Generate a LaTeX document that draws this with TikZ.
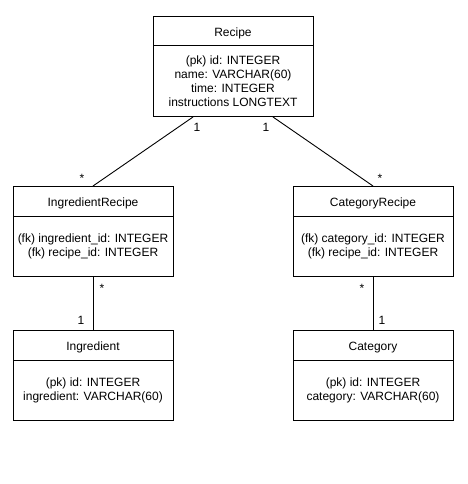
\documentclass[tikz,border=0pt]{standalone}
\usepackage{fontspec}
\setmainfont{Liberation Sans}
\usetikzlibrary{positioning}

\begin{document}
\begin{tikzpicture}[x=1pt, y=1pt,
        table/.style={draw, line width=1pt, outer sep=0pt, inner sep=0pt, minimum width=160pt, font=\fontsize{12}{14}\selectfont},
        head/.style={table, minimum height=30pt, text height=11pt, text depth=1pt},
        body/.style={table, align=center, minimum height=60pt},
        mult/.style={font=\fontsize{12}{14}\selectfont, inner sep=0pt},
        link/.style={line width=.9pt}]
        \useasboundingbox (0, 0) rectangle (467, -484);

        \node[head, minimum height=29pt] (recipeHead) at (233, -31.5) {Recipe};
        \node[body, minimum height=71pt, below=0pt of recipeHead] (recipeBody) {(pk) id: INTEGER\\ name: VARCHAR(60)\\ time: INTEGER\\ instructions LONGTEXT};

        \node[head] (ingRecHead) at (93, -201) {IngredientRecipe};
        \node[body, below=0pt of ingRecHead] (ingRecBody) {(fk) ingredient\_id: INTEGER\\ (fk) recipe\_id: INTEGER};
        \node[head] (catRecHead) at (373, -201) {CategoryRecipe};
        \node[body, below=0pt of catRecHead] (catRecBody) {(fk) category\_id: INTEGER\\ (fk) recipe\_id: INTEGER};

        \node[head] (ingHead) at (93, -345) {Ingredient};
        \node[body, below=0pt of ingHead] (ingBody) {(pk) id: INTEGER\\ ingredient: VARCHAR(60)};
        \node[head] (catHead) at (373, -345) {Category};
        \node[body, below=0pt of catHead] (catBody) {(pk) id: INTEGER\\ category: VARCHAR(60)};

        \draw[link] ([xshift=-40pt]recipeBody.south) -- (ingRecHead.north)
            node[mult, pos=0, xshift=4pt, yshift=-10pt] {1}
            node[mult, pos=1, xshift=-11pt, yshift=8pt] {*};
        \draw[link] ([xshift=40pt]recipeBody.south) -- (catRecHead.north)
            node[mult, pos=0, xshift=-7pt, yshift=-10pt] {1}
            node[mult, pos=1, xshift=7pt, yshift=8pt] {*};
        \draw[link] (ingRecBody.south) -- (ingHead.north)
            node[mult, pos=0, xshift=9pt, yshift=-12.7pt] {*}
            node[mult, pos=1, xshift=-12pt, yshift=10pt] {1};
        \draw[link] (catRecBody.south) -- (catHead.north)
            node[mult, pos=0, xshift=-11pt, yshift=-12.7pt] {*}
            node[mult, pos=1, xshift=9pt, yshift=10pt] {1};
    \end{tikzpicture}
\end{document}
